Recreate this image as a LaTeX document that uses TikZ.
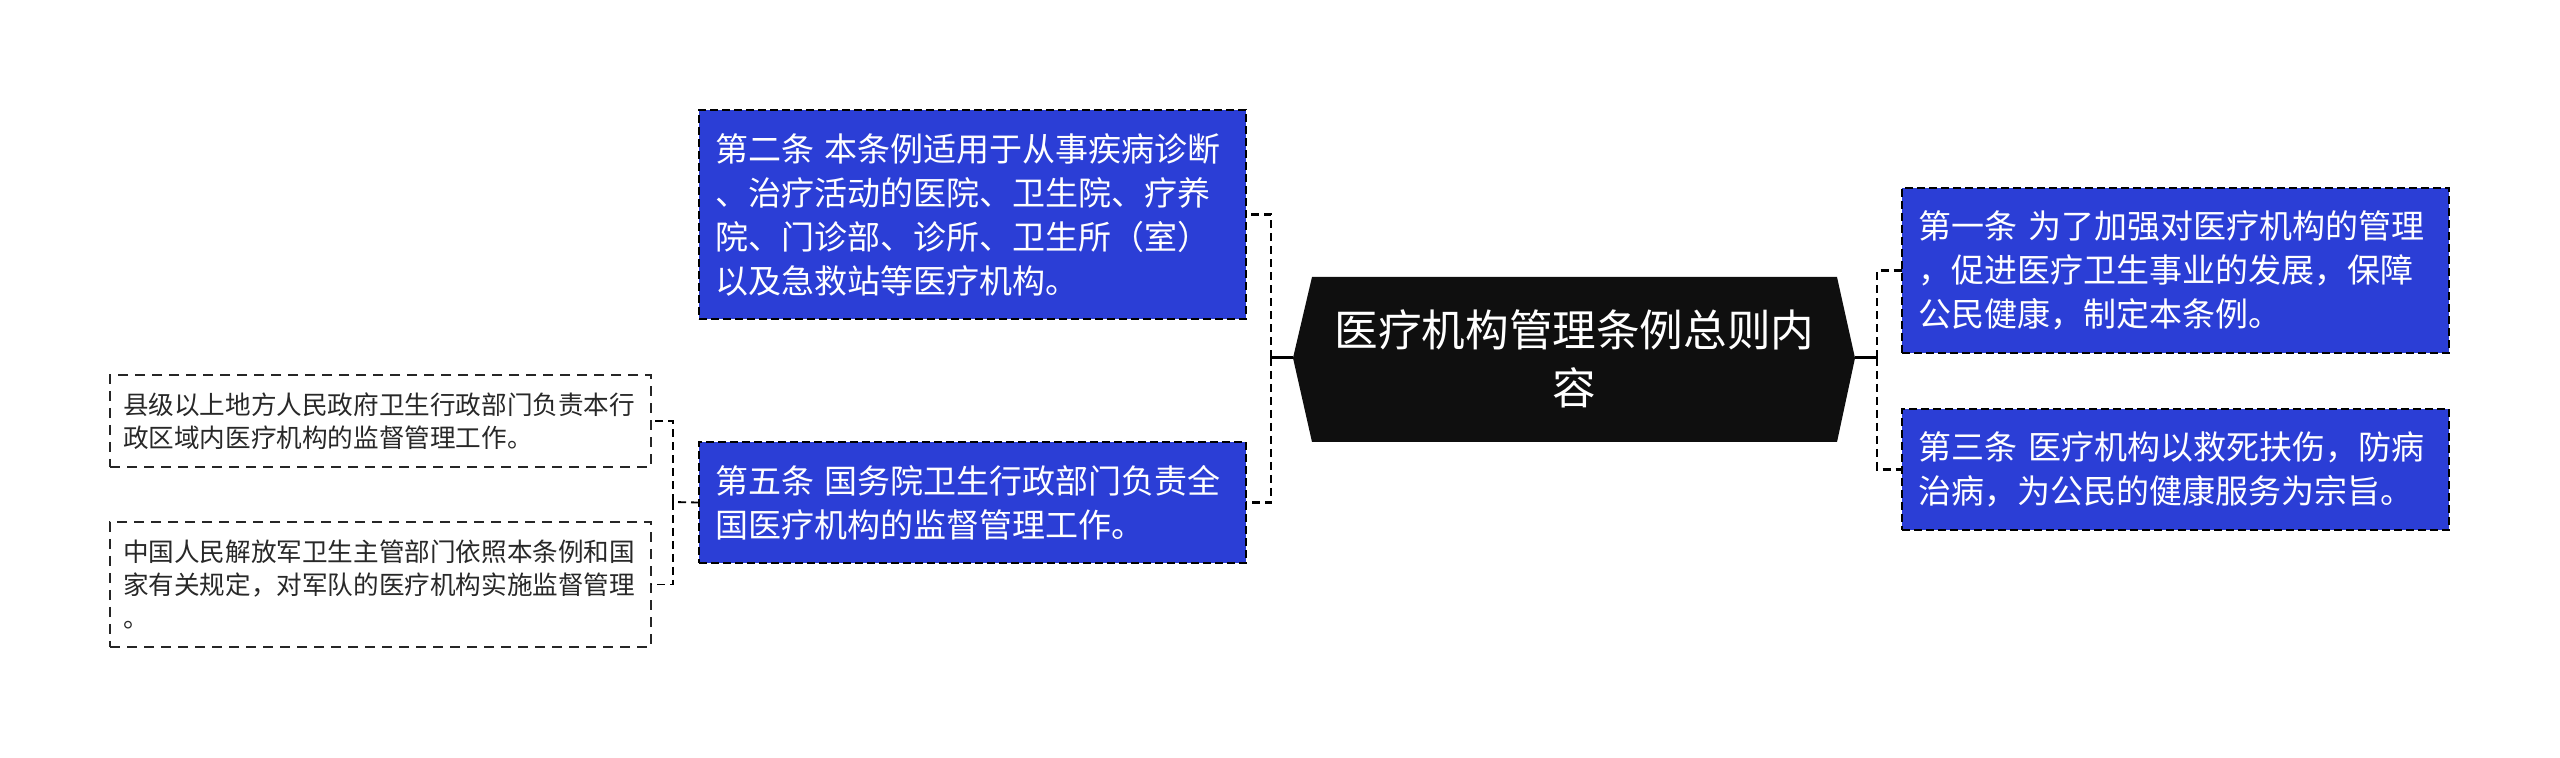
\documentclass[tikz,border=0pt]{standalone}
\usepackage{fontspec}
\setmainfont{Noto Sans CJK SC}
\definecolor{boxblue}{RGB}{43,62,214}
\definecolor{rootfill}{RGB}{15,15,15}
\definecolor{leaftext}{RGB}{40,40,40}
\begin{document}
\begin{tikzpicture}[x=0.5pt,y=-0.5pt,
  bluebox/.style={draw=black, fill=boxblue, text=white, dash pattern=on 4pt off 2pt, line width=1pt, anchor=north west, align=left, inner xsep=8pt, inner ysep=0pt, outer sep=0pt, font=\fontsize{16.5}{22}\selectfont, text width=257.5pt},
  leafbox/.style={draw=black!85, fill=white, text=leaftext, dash pattern=on 5pt off 3.5pt, line width=0.7pt, anchor=north west, align=left, inner xsep=6.5pt, inner ysep=0pt, outer sep=0pt, font=\fontsize{12.8}{16.5}\selectfont, text width=257.5pt},
  link/.style={draw=black, line width=1.2pt, dash pattern=on 4pt off 2.5pt},
  stem/.style={draw=black, line width=1.5pt},
  leaflink/.style={draw=black, line width=0.9pt, dash pattern=on 4pt off 2.5pt},
  roottext/.style={text=white, font=\fontsize{21.8}{29}\selectfont, align=center, inner sep=0pt}
]
\useasboundingbox (0,0) rectangle (2560,758);

% root
\coordinate (rootL) at (1293,358);
\coordinate (rootR) at (1855,358);
\fill[rootfill] (1312,277) -- (1837,277) -- (rootR) -- (1837,442) -- (1312,442) -- (rootL) -- cycle;
\node[roottext] (root) at (1574.5,359) {医疗机构管理条例总则内\\容};

% right children
\node[bluebox, minimum height=82.5pt] (b1) at (1902,188) {第一条 为了加强对医疗机构的管理\\，促进医疗卫生事业的发展，保障\\公民健康，制定本条例。};
\node[bluebox, minimum height=60.5pt] (b3) at (1902,409) {第三条 医疗机构以救死扶伤，防病\\治病，为公民的健康服务为宗旨。};

% left children
\node[bluebox, minimum height=104.5pt] (b2) at (699,110) {第二条 本条例适用于从事疾病诊断\\、治疗活动的医院、卫生院、疗养\\院、门诊部、诊所、卫生所（室）\\以及急救站等医疗机构。};
\node[bluebox, minimum height=60.5pt] (b5) at (699,442) {第五条 国务院卫生行政部门负责全\\国医疗机构的监督管理工作。};

% leaves
\node[leafbox, minimum height=46pt] (la) at (110,375) {县级以上地方人民政府卫生行政部门负责本行\\政区域内医疗机构的监督管理工作。};
\node[leafbox, minimum height=62.5pt] (lb) at (110,522) {中国人民解放军卫生主管部门依照本条例和国\\家有关规定，对军队的医疗机构实施监督管理\\。};

% connectors
\coordinate (jR) at (1877,358);
\draw[stem] (rootR) -- (jR);
\draw[link] (jR) |- (b1.west);
\draw[link] (jR) |- (b3.west);

\coordinate (jL) at (1271,358);
\draw[stem] (rootL) -- (jL);
\draw[link] (jL) |- (b2.east);
\draw[link] (jL) |- (b5.east);

\coordinate (jA) at (673,502);
\draw[leaflink] (b5.west) -- (jA);
\draw[leaflink] (jA) |- (la.east);
\draw[leaflink] (jA) |- (lb.east);
\end{tikzpicture}
\end{document}
